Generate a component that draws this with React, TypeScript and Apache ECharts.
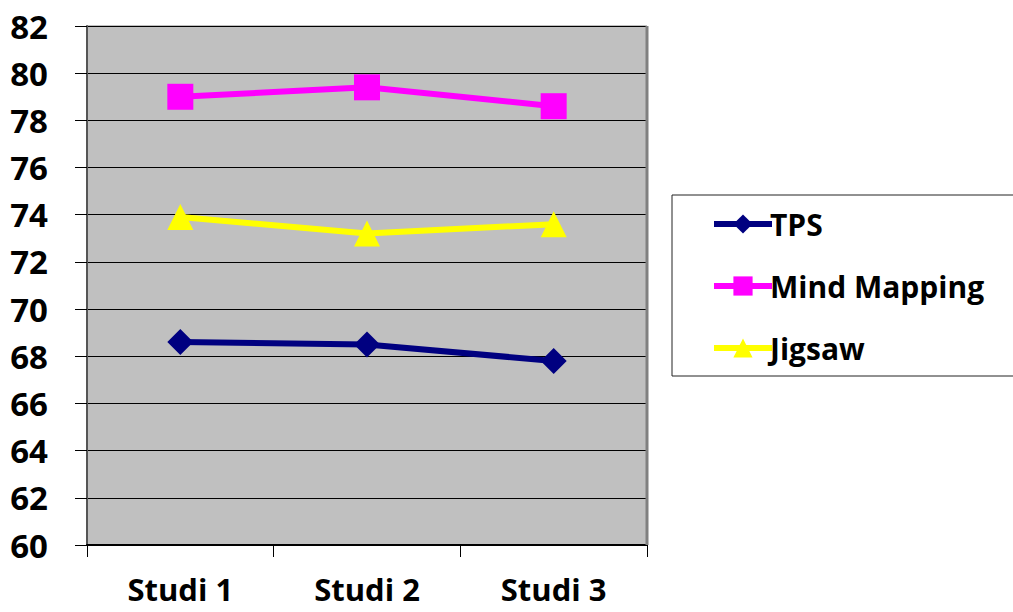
import React, { useEffect, useRef } from "react";
import * as echarts from "echarts";

const categories = ["Studi 1", "Studi 2", "Studi 3"];
const tps = [68.6, 68.5, 67.8];
const mindMapping = [79.0, 79.4, 78.6];
const jigsaw = [73.9, 73.2, 73.6];
const yMin = 60;
const yMax = 82;
const yStep = 2;

const FONT = "'Open Sans', Lato, sans-serif";

export default function App() {
  const ref = useRef<HTMLDivElement>(null);
  useEffect(() => {
    if (!ref.current) return;
    const chart = echarts.init(ref.current, undefined, { renderer: "svg" });
    chart.setOption({
      animation: false,
      backgroundColor: "#ffffff",
      grid: {
        left: 87,
        right: 366,
        top: 26,
        bottom: 67,
        show: true,
        backgroundColor: "#C0C0C0",
        borderColor: "#808080",
        borderWidth: 1,
      },
      graphic: [
        {
          type: "rect",
          shape: { x: 672, y: 195, width: 360, height: 181 },
          style: { fill: "none", stroke: "#222", lineWidth: 1 },
          z: 10,
        },
        {
          type: "line",
          shape: { x1: 647, y1: 26, x2: 647, y2: 545 },
          style: { stroke: "#808080", lineWidth: 3 },
          z: 10,
        },
      ],
      legend: {
        orient: "vertical",
        left: 706,
        top: 204,
        itemWidth: 58,
        itemHeight: 24,
        itemGap: 32,
        data: ["TPS", "Mind Mapping", "Jigsaw"],
        lineStyle: { width: 6 },
        textStyle: {
          fontFamily: FONT,
          fontWeight: "bold",
          fontSize: 30,
          color: "#000",
          padding: [0, 0, 0, -7],
        },
      },
      xAxis: {
        type: "category",
        data: categories,
        boundaryGap: true,
        axisLine: { show: true, lineStyle: { color: "#000", width: 2 } },
        axisTick: { show: true, length: 12, lineStyle: { color: "#000", width: 1 } },
        axisLabel: {
          margin: 29,
          fontFamily: FONT,
          fontWeight: "bold",
          fontSize: 31,
          lineHeight: 30,
          color: "#000",
        },
        splitLine: { show: false },
      },
      yAxis: {
        type: "value",
        min: yMin,
        max: yMax,
        interval: yStep,
        axisLine: { show: true, lineStyle: { color: "#555", width: 2 } },
        axisTick: { show: true, length: 12, lineStyle: { color: "#000", width: 1 } },
        axisLabel: {
          margin: 39,
          fontFamily: FONT,
          fontWeight: "bold",
          fontSize: 33,
          color: "#000",
        },
        splitLine: { show: true, lineStyle: { color: "#000", width: 1 } },
      },
      series: [
        {
          name: "TPS",
          type: "line",
          data: tps,
          symbol: "diamond",
          symbolSize: 26,
          lineStyle: { color: "#000080", width: 6 },
          itemStyle: { color: "#000080" },
        },
        {
          name: "Mind Mapping",
          type: "line",
          data: mindMapping,
          symbol: "rect",
          symbolSize: 26,
          lineStyle: { color: "#FF00FF", width: 6 },
          itemStyle: { color: "#FF00FF" },
        },
        {
          name: "Jigsaw",
          type: "line",
          data: jigsaw,
          symbol: "triangle",
          symbolSize: 26,
          lineStyle: { color: "#FFFF00", width: 6 },
          itemStyle: { color: "#FFFF00" },
        },
      ],
    });
    return () => chart.dispose();
  }, []);
  return (
    <div
      ref={ref}
      style={{ position: "fixed", left: 0, top: 0, width: 1013, height: 612 }}
    />
  );
}
